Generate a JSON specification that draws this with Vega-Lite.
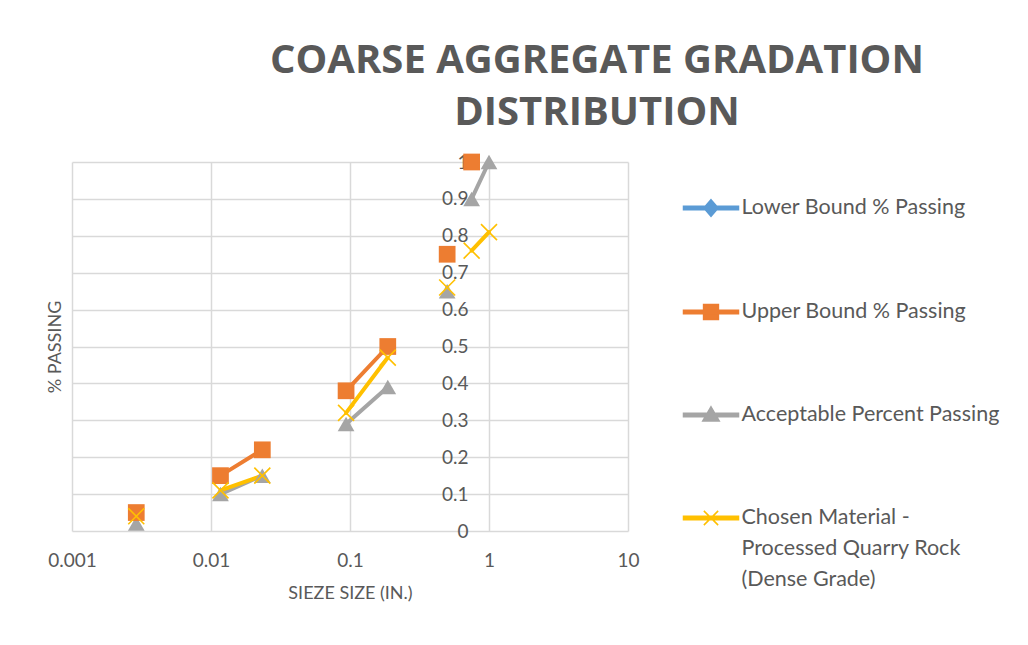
{
  "$schema": "https://vega.github.io/schema/vega-lite/v6.json",
  "width": 556,
  "height": 369,
  "autosize": {"type": "none"},
  "padding": {"left": 72, "top": 162, "right": 400, "bottom": 114},
  "background": "white",
  "title": {
    "text": ["COARSE AGGREGATE GRADATION", "DISTRIBUTION"],
    "font": "Open Sans",
    "fontSize": 40,
    "fontWeight": "bold",
    "color": "#595959",
    "anchor": "middle",
    "frame": "group",
    "dx": 247,
    "offset": 20,
    "lineHeight": 52
  },
  "config": {
    "view": {"stroke": null},
    "font": "Lato",
    "axis": {
      "labelFont": "Lato",
      "labelColor": "#595959",
      "titleFont": "Lato",
      "titleColor": "#595959",
      "titleFontWeight": "normal",
      "gridColor": "#d9d9d9",
      "gridWidth": 1.5,
      "ticks": false,
      "domain": false,
      "labelFlush": false,
      "labelOverlap": false
    }
  },
  "data": {
    "values": [
      {"series": "Acceptable Percent Passing", "size": 0.0029, "passing": 0.02, "seg": "a"},
      {"series": "Acceptable Percent Passing", "size": 0.0117, "passing": 0.10, "seg": "b"},
      {"series": "Acceptable Percent Passing", "size": 0.0234, "passing": 0.15, "seg": "b"},
      {"series": "Acceptable Percent Passing", "size": 0.0937, "passing": 0.29, "seg": "c"},
      {"series": "Acceptable Percent Passing", "size": 0.187, "passing": 0.39, "seg": "c"},
      {"series": "Acceptable Percent Passing", "size": 0.5, "passing": 0.65, "seg": "d"},
      {"series": "Acceptable Percent Passing", "size": 0.75, "passing": 0.90, "seg": "e"},
      {"series": "Acceptable Percent Passing", "size": 1.0, "passing": 1.0, "seg": "e"},
      {"series": "Upper Bound % Passing", "size": 0.0029, "passing": 0.05, "seg": "a"},
      {"series": "Upper Bound % Passing", "size": 0.0117, "passing": 0.15, "seg": "b"},
      {"series": "Upper Bound % Passing", "size": 0.0234, "passing": 0.22, "seg": "b"},
      {"series": "Upper Bound % Passing", "size": 0.0937, "passing": 0.38, "seg": "c"},
      {"series": "Upper Bound % Passing", "size": 0.187, "passing": 0.50, "seg": "c"},
      {"series": "Upper Bound % Passing", "size": 0.5, "passing": 0.75, "seg": "d"},
      {"series": "Upper Bound % Passing", "size": 0.75, "passing": 1.0, "seg": "e"},
      {"series": "Chosen Material - Processed Quarry Rock (Dense Grade)", "size": 0.0029, "passing": 0.04, "seg": "a"},
      {"series": "Chosen Material - Processed Quarry Rock (Dense Grade)", "size": 0.0117, "passing": 0.11, "seg": "b"},
      {"series": "Chosen Material - Processed Quarry Rock (Dense Grade)", "size": 0.0234, "passing": 0.15, "seg": "b"},
      {"series": "Chosen Material - Processed Quarry Rock (Dense Grade)", "size": 0.0937, "passing": 0.32, "seg": "c"},
      {"series": "Chosen Material - Processed Quarry Rock (Dense Grade)", "size": 0.187, "passing": 0.47, "seg": "c"},
      {"series": "Chosen Material - Processed Quarry Rock (Dense Grade)", "size": 0.5, "passing": 0.66, "seg": "d"},
      {"series": "Chosen Material - Processed Quarry Rock (Dense Grade)", "size": 0.75, "passing": 0.76, "seg": "e"},
      {"series": "Chosen Material - Processed Quarry Rock (Dense Grade)", "size": 1.0, "passing": 0.81, "seg": "e"}
    ]
  },
  "encoding": {
    "x": {
      "field": "size",
      "type": "quantitative",
      "scale": {"type": "log", "domain": [0.001, 10], "nice": false},
      "axis": {
        "title": "SIEZE SIZE (IN.)",
        "values": [0.001, 0.01, 0.1, 1, 10],
        "format": "~g",
        "labelFontSize": 19,
        "labelPadding": 20,
        "titleFontSize": 18,
        "titlePadding": 14
      }
    },
    "y": {
      "field": "passing",
      "type": "quantitative",
      "scale": {"domain": [0, 1], "nice": false},
      "axis": {
        "title": "% PASSING",
        "values": [0, 0.1, 0.2, 0.3, 0.4, 0.5, 0.6, 0.7, 0.8, 0.9, 1],
        "format": "~g",
        "offset": -417,
        "labelPadding": 21,
        "labelFontSize": 19,
        "titleFontSize": 18,
        "titleX": -434,
        "titleY": 184.5,
        "titleAngle": -90,
        "titleAlign": "center",
        "titleBaseline": "middle"
      }
    },
    "color": {
      "field": "series",
      "type": "nominal",
      "scale": {
        "domain": ["Lower Bound % Passing", "Upper Bound % Passing", "Acceptable Percent Passing", "Chosen Material - Processed Quarry Rock (Dense Grade)"],
        "range": ["#5b9bd5", "#ed7d31", "#a5a5a5", "#ffc000"]
      },
      "legend": {
        "title": null,
        "orient": "none",
        "legendX": 610.5,
        "legendY": 17.5,
        "padding": 0,
        "symbolSize": 3025,
        "rowPadding": 64,
        "labelOffset": 2,
        "labelFont": "Lato",
        "labelFontSize": 21.5,
        "labelColor": "#595959",
        "labelLimit": 400,
        "labelExpr": "datum.label == 'Chosen Material - Processed Quarry Rock (Dense Grade)' ? ['Chosen Material -', 'Processed Quarry Rock', '(Dense Grade)'] : datum.label",
        "encode": {
          "labels": {"update": {
            "lineHeight": {"value": 31}
          }},
          "symbols": {
            "update": {
              "shape": {"signal": "datum.value == 'Lower Bound % Passing' ? 'M-1,-0.06H1V0.06H-1Z M0,-0.3L0.26,0L0,0.3L-0.26,0Z' : datum.value == 'Upper Bound % Passing' ? 'M-1,-0.06H1V0.06H-1Z M-0.27,-0.27H0.27V0.27H-0.27Z' : datum.value == 'Acceptable Percent Passing' ? 'M-1,-0.06H1V0.06H-1Z M0,-0.3L0.3,0.22H-0.3Z' : 'M-1,-0.06H1V0.06H-1Z M-0.26,-0.26L0.26,0.26M0.26,-0.26L-0.26,0.26'"},
              "fill": {"signal": "scale('color', datum.value)"},
              "stroke": {"signal": "scale('color', datum.value)"},
              "strokeWidth": {"value": 1.5},
              "size": {"value": 3025},
              "opacity": {"value": 1},
              "fillOpacity": {"value": 1}
            }
          }
        }
      }
    }
  },
  "layer": [
    {
      "mark": {"type": "line", "strokeWidth": 4, "strokeCap": "round"},
      "encoding": {"detail": {"field": "seg"}}
    },
    {
      "transform": [{"filter": "datum.series == 'Acceptable Percent Passing'"}],
      "mark": {"type": "point", "shape": "triangle-up", "filled": true, "opacity": 1, "size": 280}
    },
    {
      "transform": [{"filter": "datum.series == 'Upper Bound % Passing'"}],
      "mark": {"type": "point", "shape": "square", "filled": true, "opacity": 1, "size": 280}
    },
    {
      "transform": [{"filter": "datum.series == 'Chosen Material - Processed Quarry Rock (Dense Grade)'"}],
      "mark": {"type": "point", "shape": "M-1,-1L1,1M1,-1L-1,1", "filled": false, "opacity": 1, "size": 256, "strokeWidth": 1.6}
    }
  ]
}
